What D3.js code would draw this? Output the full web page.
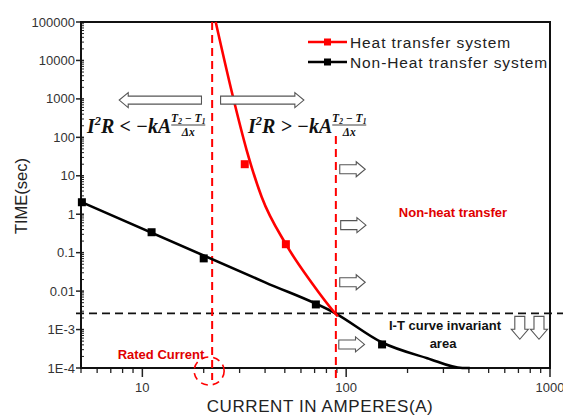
<!DOCTYPE html>
<html>
<head>
<meta charset="utf-8">
<script src="https://cdn.jsdelivr.net/npm/d3@7"></script>
<style>
  body { margin: 0; background: #fff; }
  svg { display: block; }
  text { font-family: Arial, "Liberation Sans", sans-serif; }
  .math { font-family: "Liberation Serif", "DejaVu Serif", serif; font-weight: bold; font-style: italic; }
</style>
</head>
<body>
<svg width="563" height="418"></svg>
<script>
// curve data
var heatCurveX = [22.9, 27.7, 32.5, 38.5, 50.6, 68, 88.3, 91];
var heatCurveY = [100000, 1260, 46, 2.8, 0.166, 0.016, 0.00264, 0.0022];
var heatMarkX = [31.8, 50.6];
var heatMarkY = [20, 0.166];

var nonCurveX = [5, 40, 89, 150, 250, 372, 404];
var nonCurveY = [2.1, 0.0169, 0.0026, 0.00046, 0.00018, 0.0001, 0.0001];
var nonMarkX = [5.05, 11.1, 20, 71, 150];
var nonMarkY = [2.05, 0.34, 0.071, 0.0045, 0.00041];

var yTicks = [1e-4, 1e-3, 0.01, 0.1, 1, 10, 100, 1000, 10000, 100000];
var yTickLabels = ['1E-4', '1E-3', '0.01', '0.1', '1', '10', '100', '1000', '10000', '100000'];
var xTicks = [10, 100, 1000];
var xTickLabels = ['10', '100', '1000'];

var ratedCurrent = 22;
var limitCurrent = 89;
var limitTime = 0.00264;

var seriesNames = ['Heat transfer system', 'Non-Heat transfer system'];
var seriesColors = ['#ff0000', '#000000'];

// hollow arrows: [x0, x1, y] in data units
var bigArrows = [[19.5, 7.7, 930], [24.2, 62, 930]];
var smallArrows = [[93, 124, 14.8], [94, 125, 0.52], [93, 124, 0.017], [92, 123, 0.00041]];
var downArrows = [[711, 0.0022, 0.00056], [883, 0.0022, 0.00056]];

var svg = d3.select('svg');
var plotLeft = 81, plotRight = 550, plotTop = 22, plotBottom = 368;

var x = d3.scaleLog().domain([5, 1000]).range([plotLeft, plotRight]);
var y = d3.scaleLog().domain([1e-4, 1e5]).range([plotBottom, plotTop]);

// minor ticks
var xMinor = [];
[1, 10, 100].forEach(function(d) {
    for (var k = 2; k <= 9; k++) {
        var v = d * k;
        if (v >= 5 && v < 1000) xMinor.push(v);
    }
});
var yMinor = [];
for (var e = -4; e < 5; e++) {
    for (var k = 2; k <= 9; k++) yMinor.push(k * Math.pow(10, e));
}

var axes = svg.append('g');
axes.selectAll('.xminor').data(xMinor).enter().append('line')
    .attr('x1', function(d) { return x(d); }).attr('x2', function(d) { return x(d); })
    .attr('y1', plotBottom).attr('y2', plotBottom + 5)
    .attr('stroke', '#222').attr('stroke-width', 1.3);
axes.selectAll('.xmajor').data(xTicks).enter().append('line')
    .attr('x1', function(d) { return x(d); }).attr('x2', function(d) { return x(d); })
    .attr('y1', plotBottom).attr('y2', plotBottom + 9)
    .attr('stroke', '#222').attr('stroke-width', 1.5);
axes.selectAll('.yminor').data(yMinor).enter().append('line')
    .attr('x1', plotLeft).attr('x2', plotLeft + 3)
    .attr('y1', function(d) { return y(d); }).attr('y2', function(d) { return y(d); })
    .attr('stroke', '#222').attr('stroke-width', 1);
axes.selectAll('.ymajor').data(yTicks).enter().append('line')
    .attr('x1', plotLeft - 5).attr('x2', plotLeft + 3)
    .attr('y1', function(d) { return y(d); }).attr('y2', function(d) { return y(d); })
    .attr('stroke', '#222').attr('stroke-width', 1.5);

axes.selectAll('.ylab').data(yTicks).enter().append('text')
    .attr('x', plotLeft - 6).attr('y', function(d) { return y(d) + 4.5; })
    .attr('text-anchor', 'end').attr('font-size', 13).attr('fill', '#333')
    .text(function(d, i) { return yTickLabels[i]; });
axes.selectAll('.xlab').data(xTicks).enter().append('text')
    .attr('x', function(d) { return x(d); }).attr('y', plotBottom + 24)
    .attr('text-anchor', 'middle').attr('font-size', 13).attr('fill', '#333')
    .text(function(d, i) { return xTickLabels[i]; });

// frame
svg.append('rect')
    .attr('x', plotLeft).attr('y', plotTop)
    .attr('width', plotRight - plotLeft).attr('height', plotBottom - plotTop)
    .attr('fill', 'none').attr('stroke', '#111').attr('stroke-width', 2);

svg.append('text')
    .attr('x', 320).attr('y', 412)
    .attr('text-anchor', 'middle').attr('font-size', 17).attr('letter-spacing', 0.6)
    .attr('fill', '#222')
    .text('CURRENT IN AMPERES(A)');
svg.append('text')
    .attr('transform', 'translate(27,196) rotate(-90)')
    .attr('text-anchor', 'middle').attr('font-size', 16.5).attr('fill', '#222')
    .text('TIME(sec)');

// guide lines
svg.append('line')
    .attr('x1', plotLeft - 5).attr('x2', 563)
    .attr('y1', y(limitTime)).attr('y2', y(limitTime))
    .attr('stroke', '#111').attr('stroke-width', 1.6).attr('stroke-dasharray', '8,5');
svg.append('line')
    .attr('x1', x(ratedCurrent)).attr('x2', x(ratedCurrent))
    .attr('y1', plotTop).attr('y2', plotBottom + 12)
    .attr('stroke', '#ff0000').attr('stroke-width', 2).attr('stroke-dasharray', '8,5');
svg.append('line')
    .attr('x1', x(limitCurrent)).attr('x2', x(limitCurrent))
    .attr('y1', 136).attr('y2', plotBottom + 10)
    .attr('stroke', '#ff0000').attr('stroke-width', 2).attr('stroke-dasharray', '8,5');
svg.append('ellipse')
    .attr('cx', x(ratedCurrent) - 3).attr('cy', plotBottom + 3)
    .attr('rx', 15).attr('ry', 14)
    .attr('fill', 'none').attr('stroke', '#ff0000').attr('stroke-width', 1.6)
    .attr('stroke-dasharray', '7,5');

// curves
var line = d3.line()
    .x(function(d) { return x(d[0]); })
    .y(function(d) { return y(d[1]); })
    .curve(d3.curveMonotoneX);

svg.append('path')
    .datum(d3.zip(nonCurveX, nonCurveY))
    .attr('d', line).attr('fill', 'none')
    .attr('stroke', seriesColors[1]).attr('stroke-width', 2.6);
svg.append('path')
    .datum(d3.zip(heatCurveX, heatCurveY))
    .attr('d', line)
    .attr('fill', 'none')
    .attr('stroke', seriesColors[0]).attr('stroke-width', 2.6);

svg.selectAll('.nonMark').data(d3.zip(nonMarkX, nonMarkY)).enter().append('rect')
    .attr('x', function(d) { return x(d[0]) - 4; })
    .attr('y', function(d) { return y(d[1]) - 4; })
    .attr('width', 8).attr('height', 8).attr('fill', seriesColors[1]);
svg.selectAll('.heatMark').data(d3.zip(heatMarkX, heatMarkY)).enter().append('rect')
    .attr('x', function(d) { return x(d[0]) - 4; })
    .attr('y', function(d) { return y(d[1]) - 4; })
    .attr('width', 8).attr('height', 8).attr('fill', seriesColors[0]);

// legend
var legend = svg.append('g').attr('transform', 'translate(308,42)');
seriesNames.forEach(function(name, i) {
    var g = legend.append('g').attr('transform', 'translate(0,' + i * 20 + ')');
    g.append('line').attr('x1', 0).attr('x2', 39).attr('y1', 0).attr('y2', 0)
        .attr('stroke', seriesColors[i]).attr('stroke-width', 2.6);
    g.append('rect').attr('x', 16).attr('y', -3.5).attr('width', 7).attr('height', 7)
        .attr('fill', seriesColors[i]);
    g.append('text').attr('x', 42).attr('y', 5.5)
        .attr('font-size', 15.5).attr('letter-spacing', 0.9).attr('fill', '#222')
        .text(name);
});

// hollow arrows
function hArrow(x0, x1, yc, body, head, headLen) {
    var dir = x1 > x0 ? 1 : -1;
    var hb = x1 - dir * headLen;
    return 'M' + x0 + ',' + (yc - body / 2) +
        'L' + hb + ',' + (yc - body / 2) +
        'L' + hb + ',' + (yc - head / 2) +
        'L' + x1 + ',' + yc +
        'L' + hb + ',' + (yc + head / 2) +
        'L' + hb + ',' + (yc + body / 2) +
        'L' + x0 + ',' + (yc + body / 2) + 'Z';
}
function vArrow(xc, y0, y1, body, head, headLen) {
    var hb = y1 - headLen;
    return 'M' + (xc - body / 2) + ',' + y0 +
        'L' + (xc - body / 2) + ',' + hb +
        'L' + (xc - head / 2) + ',' + hb +
        'L' + xc + ',' + y1 +
        'L' + (xc + head / 2) + ',' + hb +
        'L' + (xc + body / 2) + ',' + hb +
        'L' + (xc + body / 2) + ',' + y0 + 'Z';
}
var arrowG = svg.append('g').attr('fill', '#fff').attr('stroke', '#555').attr('stroke-width', 1.1);
bigArrows.forEach(function(a) {
    arrowG.append('path').attr('d', hArrow(x(a[0]), x(a[1]), y(a[2]), 8, 15, 9));
});
smallArrows.forEach(function(a) {
    arrowG.append('path').attr('d', hArrow(x(a[0]), x(a[1]), y(a[2]), 9, 15, 9));
});
downArrows.forEach(function(a) {
    arrowG.append('path').attr('d', vArrow(x(a[0]), y(a[1]), y(a[2]), 10, 17, 10));
});

// formulas
function formula(x0, sign) {
    var t = svg.append('text').attr('class', 'math')
        .attr('x', x0).attr('y', 133).attr('font-size', 20).attr('fill', '#111');
    t.append('tspan').text('I');
    t.append('tspan').attr('font-size', 12.5).attr('dy', -8).text('2');
    t.append('tspan').attr('dy', 8).text('R ' + sign + ' \u2212kA');
    var w = t.node().getComputedTextLength();
    var cx = x0 + w + 17;
    svg.append('text').attr('class', 'math')
        .attr('x', cx).attr('y', 122).attr('text-anchor', 'middle')
        .attr('font-size', 11.5).attr('fill', '#111')
        .html('T<tspan font-size="7.5" dy="2">2</tspan><tspan dy="-2"> \u2212 T</tspan><tspan font-size="7.5" dy="2">1</tspan>');
    svg.append('line').attr('x1', cx - 17).attr('x2', cx + 17)
        .attr('y1', 125).attr('y2', 125).attr('stroke', '#111').attr('stroke-width', 0.8);
    svg.append('text').attr('class', 'math')
        .attr('x', cx).attr('y', 135.5).attr('text-anchor', 'middle')
        .attr('font-size', 11.5).attr('fill', '#111')
        .text('\u0394x');
}
formula(87, '<');
formula(248, '>');

// annotations
svg.append('text').attr('x', 453).attr('y', 217).attr('text-anchor', 'middle')
    .attr('font-size', 13).attr('font-weight', 'bold').attr('fill', '#e00000')
    .text('Non-heat transfer');
svg.append('text').attr('x', 445).attr('y', 330).attr('text-anchor', 'middle')
    .attr('font-size', 13).attr('font-weight', 'bold').attr('fill', '#111')
    .text('I-T curve  invariant');
svg.append('text').attr('x', 443).attr('y', 348).attr('text-anchor', 'middle')
    .attr('font-size', 13).attr('font-weight', 'bold').attr('fill', '#111')
    .text('area');
svg.append('text').attr('x', 161).attr('y', 359).attr('text-anchor', 'middle')
    .attr('font-size', 13).attr('font-weight', 'bold').attr('fill', '#e00000')
    .text('Rated Current');
</script>
</body>
</html>
